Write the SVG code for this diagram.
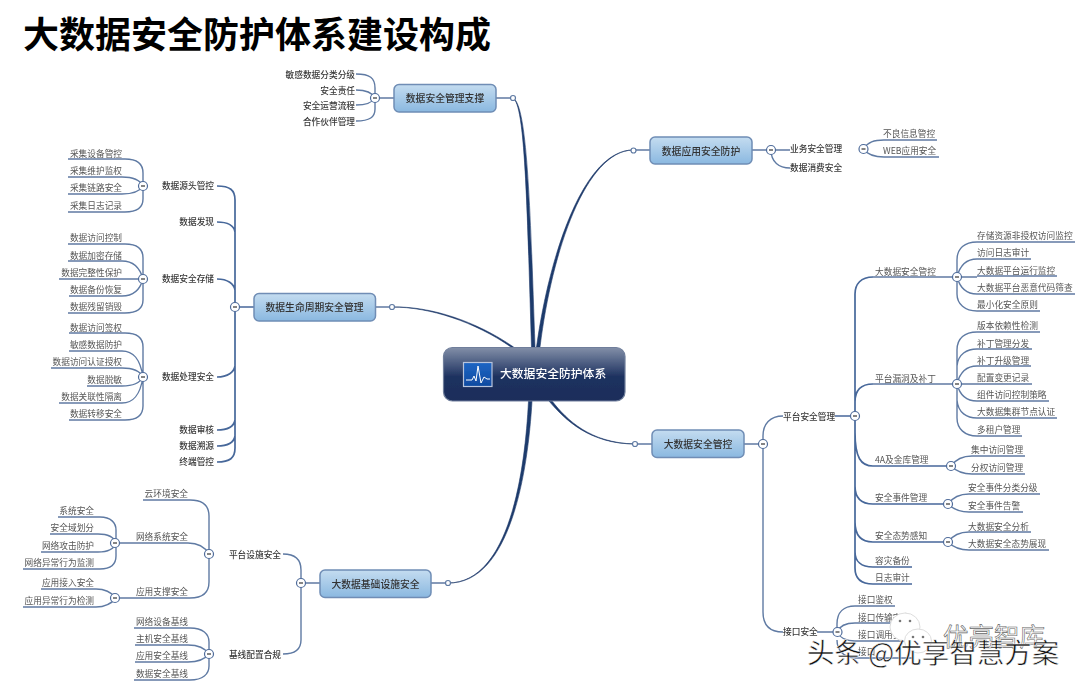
<svg xmlns="http://www.w3.org/2000/svg" width="1080" height="685" viewBox="0 0 1080 685">
<defs>
<linearGradient id="gc" x1="0" y1="0" x2="0" y2="1"><stop offset="0" stop-color="#828fa8"/><stop offset="0.55" stop-color="#1d315f"/><stop offset="1" stop-color="#1a2d5a"/></linearGradient>
<linearGradient id="gn" x1="0" y1="0" x2="0" y2="1"><stop offset="0" stop-color="#c4dcf0"/><stop offset="1" stop-color="#8ab8e0"/></linearGradient>
<linearGradient id="gi" x1="0" y1="0" x2="0" y2="1"><stop offset="0" stop-color="#1f66c4"/><stop offset="1" stop-color="#0f4aa0"/></linearGradient>
<filter id="soft" x="-5%" y="-5%" width="110%" height="110%"><feGaussianBlur stdDeviation="0.4"/></filter>
</defs>
<style>
text{font-family:"Noto Sans CJK SC","Liberation Sans",sans-serif}
.title{font-size:36px;font-weight:700;fill:#000}
.l1{font-size:9.8px;font-weight:500;fill:#333;text-anchor:middle}
.l2{font-size:8.7px;font-weight:500;fill:#3a3a3a}
.l3{font-size:8.7px;fill:#555}
.e{text-anchor:end}
.c{fill:none;stroke:#5f7aa3;stroke-width:1.4}
.m{fill:#1f3a6c;stroke:#1f3a6c;stroke-width:.6}
.t{fill:none;stroke:#47679a;stroke-width:1.7}
.n{fill:url(#gn);stroke:#6f8db5;stroke-width:1.5}
.o{fill:#fff;stroke:#5f7aa3;stroke-width:1.2}
.x{fill:#fff;stroke:#4f6c9b;stroke-width:1.2}
.d{stroke:#333;stroke-width:1.2}
.wm1{font-size:25.5px;fill:#fff;stroke:#666;stroke-width:.6}
.wm2{font-size:27.5px;fill:#111;stroke:#fff;stroke-width:.5}
.b{fill:#fff;stroke:#ddd;stroke-width:1}
.y{fill:#777}
</style>
<text class="title" x="23" y="48">大数据安全防护体系建设构成</text>
<g filter="url(#soft)">
<g id="connectors">
<path class="m" d="M513,98C525,105 527,200 531.500,347H535C530,200 527,105 513,98Z"/>
<path class="m" d="M633,150C585,150 550,250 536.500,347H540C552,250 586,151 633,150Z"/>
<path class="m" d="M392,307C430,307 475,322 511,347H513.500C476,321 430,306 392,307Z"/>
<path class="m" d="M635,444C590,444 565,420 549,401H552C567,420 590,443 635,444Z"/>
<path class="m" d="M448,583C510,583 525,470 528.500,401H532C528,470 511,584 448,583Z"/>
<path class="c" d="M496,98H513M633,150H650M375,307H392M744,444H635M431,583H448"/>
<path class="c" d="M394,98H375M356,74C370,74 375,78 375,88V109C375,117 370,121 356,121M356,90C366,90 372,92 375,98C372,103 366,105 356,105"/>
<path class="t" d="M254,307H235M217,186C230,186 235,190 235,200V448C235,458 230,462 217,462M217,222C228,222 234,226 235,232M217,279C228,279 234,284 235,290M217,377C228,377 234,372 235,366M217,430C228,430 234,426 235,420M217,446C228,446 234,442 235,436"/>
<path class="c" d="M68,159H125C138,159 143,165 143,173V199C143,207 138,212 125,212H68M68,177H122C133,177 140,180 143,186C140,191 133,194 122,194H68"/>
<path class="c" d="M68,244H125C138,244 143,250 143,258V300C143,308 138,313 125,313H68M68,261H122C133,261 140,268 143,279H59M143,279C140,290 133,296 122,296H69"/>
<path class="c" d="M69,333H125C138,333 143,339 143,347V406C143,414 138,420 125,420H69M69,351H122C133,351 140,358 143,377M51,368H122C133,368 140,371 143,377C140,383 133,386 122,386H87M59,403H122C133,403 140,396 143,377"/>
<path class="c" d="M320,583H301M283,554C295,554 301,560 301,570V640C301,649 295,654 283,654"/>
<path class="c" d="M143,500H190C203,500 209,506 209,516V582C209,592 203,598 190,598H120M120,543H188C198,543 205,547 209,554"/>
<path class="c" d="M58,517H100C111,517 116,523 116,530V556C116,564 111,569 100,569H23M50,534H98C108,534 114,537 116,543C114,549 108,552 98,552H41"/>
<path class="c" d="M41,589H96C106,589 112,593 116,598C112,603 106,607 96,607H23"/>
<path class="c" d="M134,628H190C203,628 209,634 209,642V666C209,674 203,680 190,680H134M135,645H188C198,645 205,648 209,654C205,659 198,662 188,662H135"/>
<path class="c" d="M752,150H771H778H790M771,150C771,162 779,168 790,168"/>
<path class="c" d="M863,149C868,142 874,140 884,140H937M863,149C868,155 874,157 884,157H939"/>
<path class="c" d="M744,444H763M783,416C770,416 763,424 763,436V612C763,625 770,632 783,632"/>
<path class="t" d="M835,416H855M873,277C861,277 855,284 855,294V568C855,578 861,584 873,584H912M873,384C861,384 855,390 855,402M855,432C855,458 861,466 873,466H951M855,486C855,498 861,504 873,504H948M855,522C855,536 861,542 873,542H948M855,552C855,561 861,567 873,567H912"/>
<path class="c" d="M873,277H957M873,384H957"/>
<path class="c" d="M977,242H1075M977,242C965,242 957,248 957,260V294C957,304 965,311 977,311H1040M977,259H1031M977,259C967,259 960,265 957,277M977,276H1057M957,277H977M977,294H1075M977,294C967,294 960,288 957,277"/>
<path class="c" d="M977,332H1040M977,332C965,332 957,338 957,350V418C957,429 965,436 977,436H1022M977,349H1032M977,349C967,349 958,354 957,366M977,366H1031M977,366C967,366 960,372 957,384M957,384H1032M977,401H1049M977,401C967,401 960,396 957,384M977,418H1057M977,418C967,418 958,413 957,400"/>
<path class="c" d="M951,466C956,459 962,456 972,456H1025M951,466C956,471 962,474 972,474H1025"/>
<path class="c" d="M948,504C953,497 959,494 969,494H1040M948,504C953,509 959,512 969,512H1023"/>
<path class="c" d="M948,542C953,535 959,532 969,532H1031M948,542C953,547 959,550 969,550H1049"/>
<path class="c" d="M817,632H837M855,606C844,606 837,612 837,624V632M855,623C846,623 840,625 837,632M855,641C846,641 840,638 837,632M855,658C844,658 837,650 837,640M855,606H895M855,623H912M855,641H912M855,658H912"/>
</g>
<g id="root"><rect x="443.500" y="347.500" width="181.500" height="53.500" rx="9" fill="url(#gc)" stroke="#6f7e9b" stroke-width="1.200"/>
<rect x="463.500" y="362.500" width="28.500" height="24" fill="url(#gi)" stroke="#b8c4dc" stroke-width="1.200"/>
<path d="M466,380H472L474,376L476,381L478,366L481,383L484,377L487,379H490" fill="none" stroke="#fff" stroke-width="1"/>
<text x="500" y="378" font-size="11.800" fill="#fff" style="font-weight:500">大数据安全防护体系</text></g>
<g id="n1"><rect class="n" x="394" y="84.500" width="102" height="27.500" rx="5"/><text class="l1" x="445" y="102">数据安全管理支撑</text></g>
<g id="n2"><rect class="n" x="650" y="137" width="102" height="27" rx="5"/><text class="l1" x="701" y="154.500">数据应用安全防护</text></g>
<g id="n3"><rect class="n" x="254" y="293.500" width="121.500" height="27.500" rx="5"/><text class="l1" x="314.500" y="311">数据生命周期安全管理</text></g>
<g id="n4"><rect class="n" x="652" y="430" width="92" height="27.500" rx="5"/><text class="l1" x="698" y="447.500">大数据安全管控</text></g>
<g id="n5"><rect class="n" x="320" y="570" width="111" height="27.500" rx="5"/><text class="l1" x="375.500" y="587.500">大数据基础设施安全</text></g>
<g id="labels">
<text class="l2 e" x="355" y="77.500">敏感数据分类分级</text><text class="l2 e" x="355" y="93.500">安全责任</text><text class="l2 e" x="355" y="109">安全运营流程</text><text class="l2 e" x="355" y="124.500">合作伙伴管理</text>
<text class="l2 e" x="214" y="189">数据源头管控</text><text class="l2 e" x="214" y="225">数据发现</text><text class="l2 e" x="214" y="282">数据安全存储</text><text class="l2 e" x="214" y="380">数据处理安全</text><text class="l2 e" x="214" y="433">数据审核</text><text class="l2 e" x="214" y="449">数据溯源</text><text class="l2 e" x="214" y="465">终端管控</text>
<text class="l3 e" x="122" y="156.500">采集设备管控</text><text class="l3 e" x="122" y="174">采集维护监权</text><text class="l3 e" x="122" y="191">采集链路安全</text><text class="l3 e" x="122" y="208.500">采集日志记录</text>
<text class="l3 e" x="122" y="241">数据访问控制</text><text class="l3 e" x="122" y="258.500">数据加密存储</text><text class="l3 e" x="122" y="275.500">数据完整性保护</text><text class="l3 e" x="122" y="293">数据备份恢复</text><text class="l3 e" x="122" y="310">数据残留销毁</text>
<text class="l3 e" x="122" y="330.500">数据访问签权</text><text class="l3 e" x="122" y="348">敏感数据防护</text><text class="l3 e" x="122" y="365">数据访问认证授权</text><text class="l3 e" x="122" y="382.500">数据脱敏</text><text class="l3 e" x="122" y="399.500">数据关联性隔离</text><text class="l3 e" x="122" y="417">数据转移安全</text>
<text class="l2 e" x="281" y="557.500">平台设施安全</text><text class="l2 e" x="281" y="657.500">基线配置合规</text>
<text class="l3 e" x="188" y="497">云环境安全</text><text class="l3 e" x="188" y="540">网络系统安全</text><text class="l3 e" x="188" y="595">应用支撑安全</text>
<text class="l3 e" x="94" y="514">系统安全</text><text class="l3 e" x="94" y="531">安全域划分</text><text class="l3 e" x="94" y="548.500">网络攻击防护</text><text class="l3 e" x="94" y="566">网络异常行为监测</text>
<text class="l3 e" x="94" y="586">应用接入安全</text><text class="l3 e" x="94" y="604">应用异常行为检测</text>
<text class="l3 e" x="188" y="625">网络设备基线</text><text class="l3 e" x="188" y="642">主机安全基线</text><text class="l3 e" x="188" y="659">应用安全基线</text><text class="l3 e" x="188" y="676.500">数据安全基线</text>
<text class="l2" x="790" y="152">业务安全管理</text><text class="l2" x="790" y="170.500">数据消费安全</text>
<text class="l3" x="883" y="137">不良信息管控</text><text class="l3" x="883" y="154">WEB应用安全</text>
<text class="l2" x="783" y="419.500">平台安全管理</text><text class="l2" x="783" y="635">接口安全</text>
<text class="l3" x="875" y="274.500">大数据安全管控</text><text class="l3" x="875" y="381.500">平台漏洞及补丁</text><text class="l3" x="875" y="462.500">4A及金库管理</text><text class="l3" x="875" y="500.500">安全事件管理</text><text class="l3" x="875" y="539">安全态势感知</text><text class="l3" x="875" y="564">容灾备份</text><text class="l3" x="875" y="581">日志审计</text>
<text class="l3" x="977" y="239">存储资源非授权访问监控</text><text class="l3" x="977" y="256">访问日志审计</text><text class="l3" x="977" y="273.500">大数据平台运行监控</text><text class="l3" x="977" y="291">大数据平台恶意代码筛查</text><text class="l3" x="977" y="308">最小化安全原则</text>
<text class="l3" x="977" y="329">版本依赖性检测</text><text class="l3" x="977" y="346.500">补丁管理分发</text><text class="l3" x="977" y="363.500">补丁升级管理</text><text class="l3" x="977" y="381">配置变更记录</text><text class="l3" x="977" y="398">组件访问控制策略</text><text class="l3" x="977" y="415">大数据集群节点认证</text><text class="l3" x="977" y="432.500">多租户管理</text>
<text class="l3" x="971" y="453">集中访问管理</text><text class="l3" x="971" y="470.500">分权访问管理</text>
<text class="l3" x="968" y="491">安全事件分类分级</text><text class="l3" x="968" y="509">安全事件告警</text>
<text class="l3" x="968" y="529.500">大数据安全分析</text><text class="l3" x="968" y="547">大数据安全态势展现</text>
<text class="l3" x="858" y="603">接口鉴权</text><text class="l3" x="858" y="620.500">接口传输安全</text><text class="l3" x="858" y="637.500">接口调用安全</text><text class="l3" x="858" y="655">接口</text>
</g>
<g id="dots">
<circle class="o" cx="513" cy="98" r="2.500"/><circle class="o" cx="633.500" cy="150.500" r="2.500"/><circle class="o" cx="392" cy="307" r="2.500"/><circle class="o" cx="635" cy="444" r="2.500"/><circle class="o" cx="448" cy="583" r="2.500"/>
</g>
<g id="toggles">
<circle class="x" cx="375" cy="98" r="4.500"/><path class="d" d="M373,98h4"/>
<circle class="x" cx="235" cy="307" r="4.500"/><path class="d" d="M233,307h4"/>
<circle class="x" cx="143" cy="186" r="4.500"/><path class="d" d="M141,186h4"/>
<circle class="x" cx="143" cy="279" r="4.500"/><path class="d" d="M141,279h4"/>
<circle class="x" cx="143" cy="377" r="4.500"/><path class="d" d="M141,377h4"/>
<circle class="x" cx="301" cy="583" r="4.500"/><path class="d" d="M299,583h4"/>
<circle class="x" cx="209" cy="554" r="4.500"/><path class="d" d="M207,554h4"/>
<circle class="x" cx="115" cy="543" r="4.500"/><path class="d" d="M113,543h4"/>
<circle class="x" cx="115" cy="598" r="4.500"/><path class="d" d="M113,598h4"/>
<circle class="x" cx="209" cy="654" r="4.500"/><path class="d" d="M207,654h4"/>
<circle class="x" cx="771" cy="150" r="4.500"/><path class="d" d="M769,150h4"/>
<circle class="x" cx="863.500" cy="149" r="4.500"/><path class="d" d="M861.500,149h4"/>
<circle class="x" cx="763" cy="444" r="4.500"/><path class="d" d="M761,444h4"/>
<circle class="x" cx="855" cy="416" r="4.500"/><path class="d" d="M853,416h4"/>
<circle class="x" cx="957" cy="277" r="4.500"/><path class="d" d="M955,277h4"/>
<circle class="x" cx="957" cy="384" r="4.500"/><path class="d" d="M955,384h4"/>
<circle class="x" cx="951" cy="466" r="4.500"/><path class="d" d="M949,466h4"/>
<circle class="x" cx="948" cy="504" r="4.500"/><path class="d" d="M946,504h4"/>
<circle class="x" cx="948" cy="542" r="4.500"/><path class="d" d="M946,542h4"/>
<circle class="x" cx="837.500" cy="632" r="4.500"/><path class="d" d="M835.500,632h4"/>
</g>
<g id="wechat">
<ellipse class="b" cx="905" cy="627" rx="15" ry="14"/><ellipse class="b" cx="918" cy="641" rx="13.500" ry="12"/>
<circle class="y" cx="900" cy="621" r="1.300"/><circle class="y" cx="910" cy="621" r="1.300"/><circle class="y" cx="913" cy="637" r="1.300"/><circle class="y" cx="923" cy="637" r="1.300"/>
</g>
</g>
<text class="wm1" x="943" y="646">优亮智库</text>
<text class="wm2" x="807" y="663">头条 @优享智慧方案</text>
</svg>
